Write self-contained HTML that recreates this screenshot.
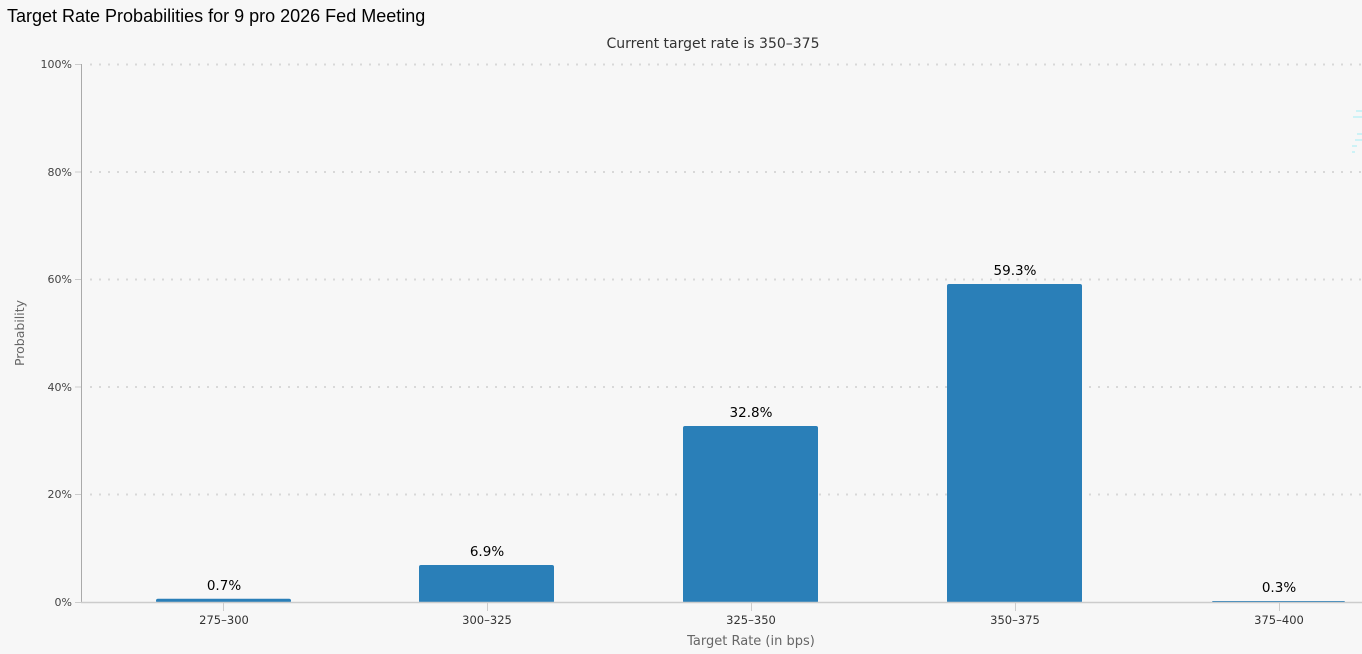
<!DOCTYPE html>
<html><head><meta charset="utf-8"><style>
html,body{margin:0;padding:0;background:#f7f7f7;width:1362px;height:654px;overflow:hidden}
svg{display:block;font-family:"DejaVu Sans","Liberation Sans",sans-serif}
</style></head><body>
<svg width="1362" height="654" viewBox="0 0 1362 654" xmlns="http://www.w3.org/2000/svg">
<rect width="1362" height="654" fill="#f7f7f7"/>
<text x="7" y="22" font-family="Liberation Sans, sans-serif" font-size="18" fill="#000">Target Rate Probabilities for 9 pro 2026 Fed Meeting</text>
<text x="713" y="48" text-anchor="middle" font-size="14" fill="#333">Current target rate is 350–375</text>
<g stroke="#d8d8d8" stroke-width="2" stroke-dasharray="2,7">
<line x1="90" y1="64.5" x2="1362" y2="64.5"/>
<line x1="90" y1="172" x2="1362" y2="172"/>
<line x1="90" y1="279.5" x2="1362" y2="279.5"/>
<line x1="90" y1="387" x2="1362" y2="387"/>
<line x1="90" y1="494.5" x2="1362" y2="494.5"/>
</g>
<g stroke="#ccc" stroke-width="1">
<line x1="75" y1="64.5" x2="81" y2="64.5"/><line x1="75" y1="172" x2="81" y2="172"/>
<line x1="75" y1="279.5" x2="81" y2="279.5"/><line x1="75" y1="387" x2="81" y2="387"/>
<line x1="75" y1="494.5" x2="81" y2="494.5"/><line x1="75" y1="602.5" x2="81" y2="602.5"/>
</g>
<line x1="81.5" y1="64" x2="81.5" y2="603" stroke="#aaa" stroke-width="1"/>
<g font-size="11" fill="#444" text-anchor="end">
<text x="72" y="68">100%</text><text x="72" y="176">80%</text><text x="72" y="283">60%</text>
<text x="72" y="391">40%</text><text x="72" y="498">20%</text><text x="72" y="606">0%</text>
</g>
<text transform="translate(24,333) rotate(-90)" text-anchor="middle" font-size="12.5" fill="#666">Probability</text>
<g fill="#2a7fb8">
<rect x="156" y="598.7" width="135" height="4" rx="2"/>
<rect x="419" y="565" width="135" height="38" rx="2"/>
<rect x="683" y="426" width="135" height="177" rx="2"/>
<rect x="947" y="284" width="135" height="319" rx="2"/>
<rect x="1212" y="601" width="133" height="2" rx="1"/>
</g>
<line x1="81" y1="602.5" x2="1362" y2="602.5" stroke="#ccc" stroke-width="1.5"/>
<g stroke="#ccc"><line x1="223.5" y1="603" x2="223.5" y2="611"/><line x1="487.5" y1="603" x2="487.5" y2="611"/><line x1="751.5" y1="603" x2="751.5" y2="611"/><line x1="1015.5" y1="603" x2="1015.5" y2="611"/><line x1="1279.5" y1="603" x2="1279.5" y2="611"/></g>
<g font-size="13.5" fill="#000" text-anchor="middle">
<text x="224" y="590">0.7%</text><text x="487" y="556">6.9%</text><text x="751" y="417">32.8%</text>
<text x="1015" y="275">59.3%</text><text x="1279" y="592">0.3%</text>
</g>
<g font-size="11.5" fill="#333" text-anchor="middle">
<text x="224" y="624">275–300</text><text x="487" y="624">300–325</text><text x="751" y="624">325–350</text>
<text x="1015" y="624">350–375</text><text x="1279" y="624">375–400</text>
</g>
<text x="751" y="645" text-anchor="middle" font-size="13" fill="#666">Target Rate (in bps)</text>
<g stroke="#bff0f5" stroke-width="1.5"><line x1="1356" y1="111" x2="1362" y2="111"/><line x1="1353" y1="117" x2="1362" y2="117"/><line x1="1357" y1="134" x2="1362" y2="134"/><line x1="1355" y1="140" x2="1362" y2="140"/><line x1="1352" y1="146" x2="1357" y2="146"/><line x1="1352" y1="152" x2="1355" y2="152"/></g>
</svg>
</body></html>
